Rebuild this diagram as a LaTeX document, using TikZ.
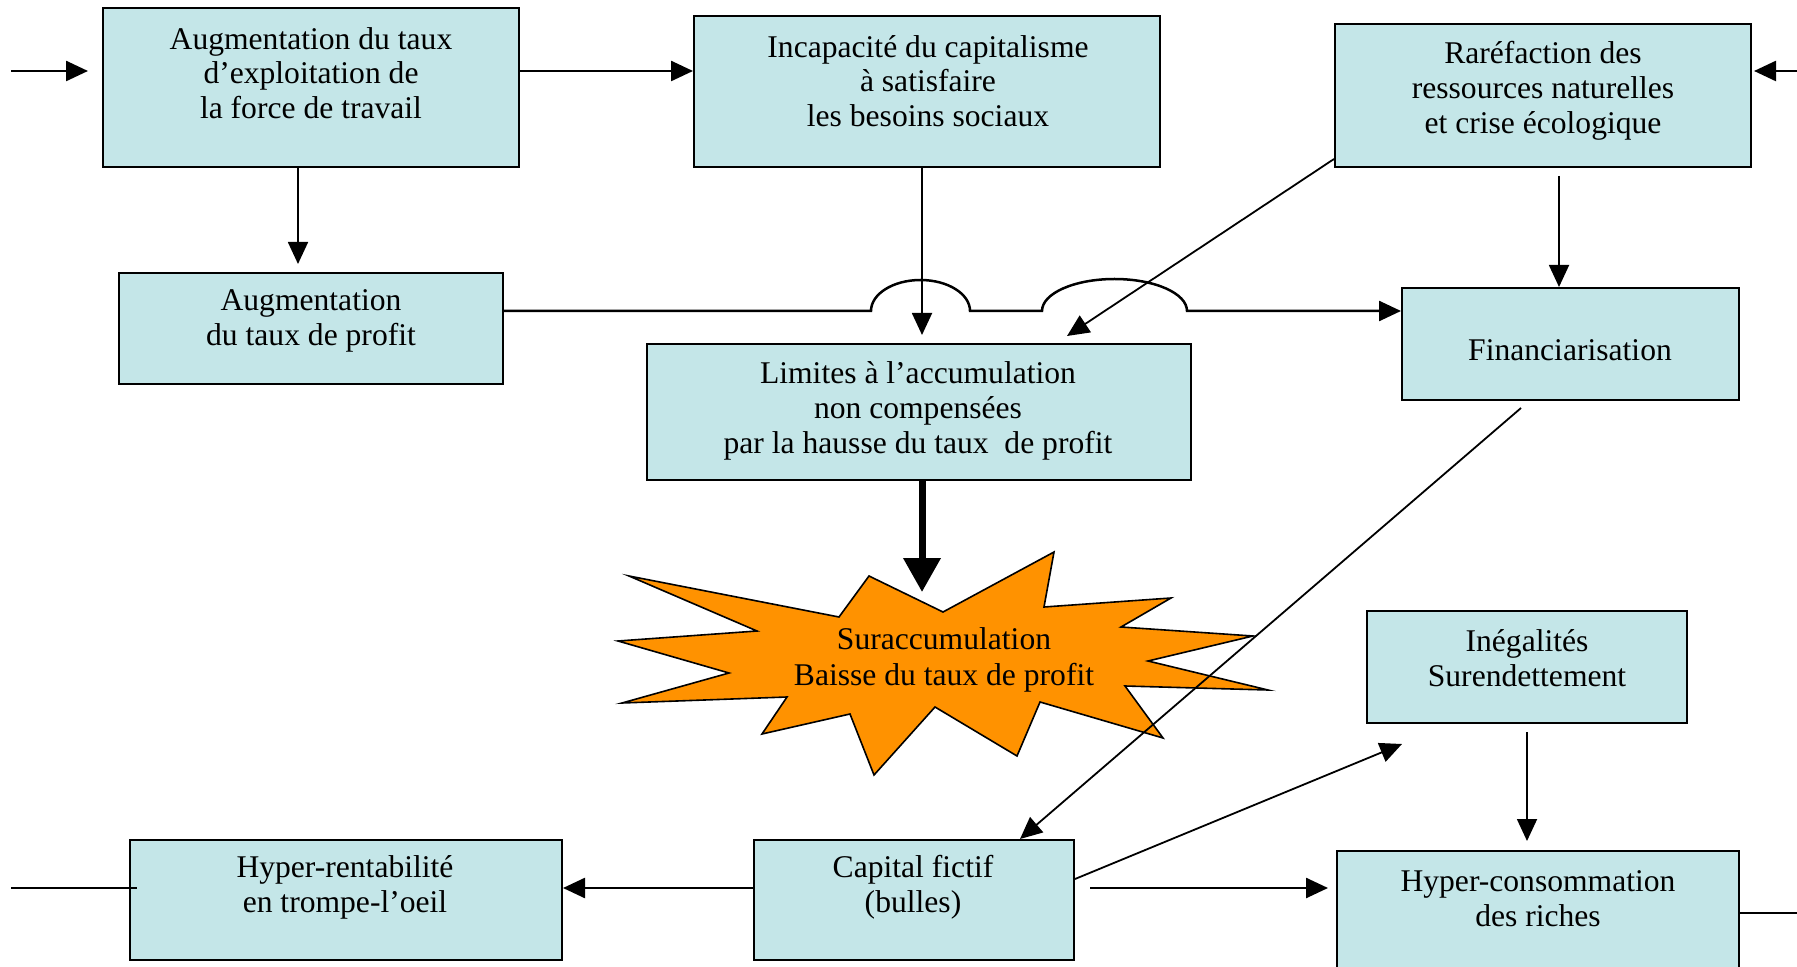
\documentclass[tikz,border=0pt]{standalone}
\usepackage{fontspec}
\setmainfont{Liberation Serif}
\usetikzlibrary{arrows.meta}
\definecolor{boxfill}{RGB}{196,230,232}
\definecolor{starfill}{RGB}{255,146,0}
\begin{document}
\begin{tikzpicture}[x=0.5pt,y=-0.5pt,
  box/.style={draw=black, line width=1pt, fill=boxfill, inner sep=0pt},
  txt/.style={align=center, font=\fontsize{15.8}{17.4}\selectfont, inner sep=0pt},
  arr/.style={line width=1.25pt, -{Triangle[length=11pt,width=10pt]}},
  thin arr/.style={line width=0.9pt, -{Triangle[length=11pt,width=10pt]}},
  ln/.style={line width=1.25pt}]
\useasboundingbox (0,0) rectangle (1797,967);

% boxes
\node[box, minimum width=208pt, minimum height=79.5pt] (A) at (311,87.5) {};
\node[txt] (At) at (311,73) {Augmentation du taux\\d’exploitation de\\la force de travail};
\node[box, minimum width=233pt, minimum height=75.5pt] (B) at (927,91.5) {};
\node[txt] (Bt) at (928,81) {Incapacité du capitalisme\\à satisfaire\\les besoins sociaux};
\node[box, minimum width=208pt, minimum height=71.5pt] (C) at (1543,95.5) {};
\node[txt] (Ct) at (1543,91) {Raréfaction des\\ressources naturelles\\et crise écologique};
\node[box, minimum width=192pt, minimum height=55.5pt] (D) at (311,328.5) {};
\node[txt] (Dt) at (311,321) {Augmentation\\du taux de profit};
\node[box, minimum width=272pt, minimum height=68pt] (E) at (919,412) {};
\node[txt] (Et) at (918,411) {Limites à l’accumulation\\non compensées\\par la hausse du taux\ \ de profit};
\node[box, minimum width=168.5pt, minimum height=56pt] (F) at (1570.5,344) {};
\node[txt] (Ft) at (1570,350) {Financiarisation};
\node[box, minimum width=160pt, minimum height=56pt] (G) at (1527,667) {};
\node[txt] (Gt) at (1527,658) {Inégalités\\Surendettement};
\node[box, minimum width=201pt, minimum height=64.5pt] (H) at (1538,915.5) {};
\node[txt] (Ht) at (1538,899) {Hyper-consommation\\des riches};
\node[box, minimum width=160pt, minimum height=60pt] (I) at (914,900) {};
\node[txt] (It) at (913,887) {Capital fictif\\(bulles)};
\node[box, minimum width=216pt, minimum height=60pt] (J) at (346,900) {};
\node[txt] (Jt) at (345,887) {Hyper-rentabilité\\en trompe-l’oeil};

% star
\draw[line width=0.8pt, fill=starfill, line join=miter]
  (629,576) -- (839,617) -- (869,576) -- (943,612) -- (1054,552) -- (1044,607)
  -- (1171,598) -- (1121,627) -- (1253,636) -- (1148,661) -- (1268,690)
  -- (1125,686) -- (1163,738) -- (1040,702) -- (1017,756) -- (935,707)
  -- (874,775) -- (850,714) -- (762,734) -- (787,697) -- (622,703)
  -- (729,673) -- (618,641) -- (757,631) -- cycle;
\node[txt, font=\fontsize{15.8}{18.2}\selectfont] (S) at (944,660) {Suraccumulation\\Baisse du taux de profit};

% helper coordinates
\coordinate (y71) at (0,71);
\coordinate (y159) at (0,159);
\coordinate (y311) at (0,311);
\coordinate (y879) at (0,879);
\coordinate (y888) at (0,888);
\coordinate (y913) at (0,913);
\coordinate (x298) at (298,0);
\coordinate (x922) at (922,0);
\coordinate (x1559) at (1559,0);
\coordinate (x1020) at (1020,0);
\coordinate (x1527) at (1527,0);
\coordinate (inL) at (11,71);
\coordinate (inR) at (1797,71);
\coordinate (outL) at (11,888);
\coordinate (outR) at (1797,913);
\coordinate (eCE) at (1067,336);
\coordinate (sTop) at (922,592);
\coordinate (sFI) at (1521,408);
\coordinate (eIG) at (1402,744);
\coordinate (jIn) at (137,888);

% connectors
\draw[arr, shorten >=7pt] (inL) -- (A.west |- y71);
\draw[arr] (A.east |- y71) -- (B.west |- y71);
\draw[thin arr, shorten >=4pt] (A.south -| x298) -- (D.north -| x298);
\draw[thin arr, shorten >=4pt] (B.south -| x922) -- (E.north -| x922);
\draw[thin arr] (C.west |- y159) -- (eCE);
\draw[thin arr, shorten <=4pt] (C.south -| x1559) -- (F.north -| x1559);
\draw[arr, shorten >=1pt] (inR) -- (C.east |- y71);
\draw[arr] (D.east |- y311) -- (871,311)
  .. controls (871,293.9) and (893.2,280) .. (920.5,280)
  .. controls (947.8,280) and (970,293.9) .. (970,311)
  -- (1042,311)
  .. controls (1042,293.3) and (1074.5,279) .. (1114.5,279)
  .. controls (1154.5,279) and (1187,293.3) .. (1187,311)
  -- (F.west |- y311);
\draw[line width=3.5pt, -{Triangle[length=17pt,width=18pt]}] (E.south -| x922) -- (sTop);
\draw[thin arr] (sFI) -- (I.north -| x1020);
\draw[thin arr] (I.east |- y879) -- (eIG);
\draw[arr, shorten <=7.5pt, shorten >=4pt] (I.east |- y888) -- (H.west |- y888);
\draw[thin arr, shorten <=4pt, shorten >=4.5pt] (G.south -| x1527) -- (H.north -| x1527);
\draw[arr] (I.west |- y888) -- (J.east |- y888);
\draw[ln] (outL) -- (jIn);
\draw[ln] (H.east |- y913) -- (outR);
\end{tikzpicture}
\end{document}
